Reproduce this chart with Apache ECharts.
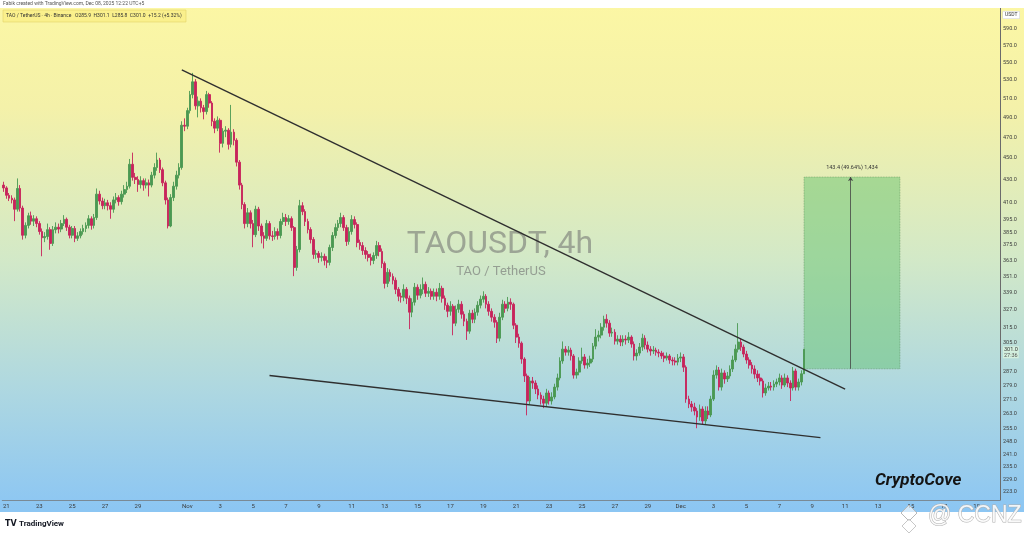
<!DOCTYPE html>
<html><head><meta charset="utf-8">
<script src="https://cdn.jsdelivr.net/npm/echarts@6/dist/echarts.min.js"></script>
<style>html,body{margin:0;padding:0;background:#fff}#c{width:1024px;height:536px}</style>
</head><body><div id="c"></div><script>
// ---- data (4h TAO/USDT candles) ----
const firstOpen = 425;
const closes = [
422.5,416,413.5,412,404,422,405,382.5,390.5,398.5,
394,396,392,385.5,380.5,381.5,387,376,387,389,
387.5,392,395.5,389,382.5,388,380,382,385.5,388,
390.5,396,390.5,397,417,411,407,409.5,407,404,
412,414,410.5,417,421,424,444,432,430,425.5,
429,425,427,425,434,441,448,439,427,412,
390,414,424,434,441,482,481,497,514,528,
502,507,500,496,514,505,486,479,487,464,
476,477,463,475,467,446,425,408,392,401,
392,383,404,390,382,380,392,382,381.5,385.5,
382.3,393.7,397,393.7,396.1,388.7,357.5,371.2,407,402,
393.7,387.1,379.1,367.4,368.2,365.1,365.9,362.8,361.3,372.8,
382.3,388.7,392,397,388.7,377.5,385.5,395.3,391.2,376.7,
374.3,370.4,367.4,365.1,362.8,366.6,374.3,369.7,360.5,345.7,
353.8,350.8,348,341.4,336.5,335.8,341.4,335.1,325.4,332.3,
342.9,337.2,341.4,345,338.6,340,336.5,339.3,336.5,342.1,
335.1,330.2,326,329.5,318,327.4,330.9,324,319.3,312.7,
324.7,320.6,325.4,330.2,334.4,336.5,330.9,326,322,318.6,
308.1,322,330.9,328.1,332.3,330.9,316.6,308.8,304.9,294.9,
284.6,270,281.6,280.4,276.9,273.4,271.1,268.8,274.6,270,
272.3,278,283.4,293.7,301.1,299.2,300.5,296.8,285.1,286.9,
293.7,296.2,291.2,292.4,294.9,303,308.8,310.1,315.3,320.6,
318,311.4,312,306.2,307.5,305.6,307.5,306.9,308.8,304.3,
296.8,298.6,302.4,308.1,303.7,301.1,299.9,300.5,299.2,298.6,
296.8,295.5,296.8,294.3,293.7,293,295.5,296.2,289.9,271.1,
268.3,266.6,264.4,261.1,265.5,258.9,264.4,262.2,271.1,285.1,
288.2,278,286.4,282.8,284.6,288.8,294.3,301.1,305.6,302.4,
298,294.3,291.2,288.8,285.7,283.4,281.6,274.6,277.5,278.6,
278,279.8,281,283.4,279.2,283.4,280.4,277.5,287.6,278,
281,285.9,301.0
];
const highs = [
428,424,418,416,414,431,425,407,393,401,
402,399,398,394,388,385,392,389,390,393,
392,395,399,397,391,390,390,385,388,391,
393,399,398,400,422,420,414,413,412,410,
415,418,416,420,425,428,449,455,436,433,
433,431,431,430,437,445,455,450,441,429,
414,417,428,438,445,486,489,500,518,538,
531,512,510,503,518,516,507,489,491,489,
479,481,479,503,478,469,448,427,410,405,
403,395,407,406,392,385,395,394,386,389,
388,396,401,400,399,398,390,374,412,410,
404,396,389,381,371,370,369,368,366,375,
385,392,395,401,399,391,389,399,398,393,
379,377,373,370,368,369,378,377,372,362,
357,356,353,350,343,339,345,343,337,335,
346,345,345,350,347,343,342,342,342,346,
344,337,332,333,331,330,334,333,326,321,
327,327,328,333,337,340,338,333,328,324,
320,325,334,333,336,335,332,318,311,306,
296,286,284,284,282,279,275,273,277,276,
275,280,286,296,306,303,303,302,298,289,
296,302,298,295,297,305,314,313,318,323,
324,320,315,314,310,310,310,310,312,310,
306,301,305,311,310,306,303,303,302,301,
300,299,299,298,296,296,298,299,298,291,
273,270,269,266,268,267,267,267,273,288,
291,290,289,288,287,291,297,304,318,308,
304,300,296,293,291,288,286,283,280,281,
281,282,283,286,285,286,285,282,290,289,
283,288,301.1
];
const lows = [
419,413,411,409,394,402,402,379,380,388,
391,390,389,383,366,377,379,371,374,384,
384,385,390,386,380,380,377,378,380,383,
385,388,387,388,395,408,404,404,403,396,
401,409,407,408,414,418,422,429,426,419,
422,420,422,415,423,431,438,436,424,408,
388,389,411,421,431,439,476,478,494,510,
498,490,495,488,493,500,481,474,476,455,
460,470,458,460,462,442,421,404,388,389,
388,373,381,386,376,372,378,379,378,379,
379,380,391,390,391,386,351,355,369,399,
390,384,376,364,364,361,362,359,357,359,
370,380,386,389,386,374,375,383,388,373,
371,367,364,362,359,360,364,366,357,342,
343,347,345,338,333,332,333,331,314,322,
330,334,335,338,336,336,334,334,333,334,
332,327,322,323,310,316,325,321,316,307,
311,318,318,323,328,332,328,323,319,315,
305,306,320,325,326,327,314,305,302,292,
281,262,268,277,274,271,268,266,267,268,
268,271,276,282,292,297,297,294,283,283,
285,292,289,289,290,293,301,306,308,313,
315,309,309,304,304,303,303,304,305,302,
294,294,297,300,301,299,297,298,297,296,
295,293,294,292,291,291,291,293,287,269,
266,264,262,255,259,257,257,260,261,270,
283,276,276,280,281,283,287,293,299,300,
296,292,289,286,283,281,279,272,273,276,
276,276,278,279,277,278,278,270,276,276,
276,279,285.8
];
// right price-scale tick labels
const yTicks = [590,570,550,530,510,490,470,450,430,410,395,385,375,363,351,339,327,315,305,287,279,271,263,255,248,241,235,229,223];
const lastPrice = 301.0;
const countdown = '27:36';
// time-scale tick labels (date -> text)
const xTickDays = ['10-21','10-23','10-25','10-27','10-29','11-01','11-03','11-05','11-07','11-09','11-11','11-13','11-15','11-17','11-19','11-21','11-23','11-25','11-27','11-29','12-01','12-03','12-05','12-07','12-09','12-11','12-13','12-15','12-17','12-19'];
const xTickLabels = ['21','23','25','27','29','Nov','3','5','7','9','11','13','15','17','19','21','23','25','27','29','Dec','3','5','7','9','11','13','15','17','19'];
// drawings: [bar index, price]
const upperTrend = [[65, 541.3], [307, 276.9]];
const lowerTrend = [[97, 284.9], [298, 250.0]];
const boxBars = [292, 327, 309];       // left, right, measure line
const boxPrices = [288.9, 432.3];      // bottom, top
const boxText = '143.4 (49.64%) 1,434';

// ---- categories: 4h bars ----
const pad = n => (n < 10 ? '0' : '') + n;
const startMs = Date.UTC(2025, 9, 20, 20);
const nBars = 364;
const categories = [];
for (let k = 0; k < nBars; k++) {
  const d = new Date(startMs + k * 4 * 3600 * 1000);
  categories.push(d.getUTCFullYear() + '-' + pad(d.getUTCMonth() + 1) + '-' + pad(d.getUTCDate()) + ' ' + pad(d.getUTCHours()) + ':00');
}
const tickMap = {};
xTickDays.forEach((d, i) => { tickMap['2025-' + d + ' 00:00'] = xTickLabels[i]; });

const candles = closes.map((c, i) => [i ? closes[i - 1] : firstOpen, c, lows[i], highs[i]]);

const hidden = { color: 'rgba(0,0,0,0)', width: 0 };
const tickLines = yTicks.map(v => ({ yAxis: v, lineStyle: hidden, label: { formatter: v.toFixed(1) } }));
tickLines.push({ yAxis: lastPrice, lineStyle: hidden, label: { formatter: lastPrice.toFixed(1), backgroundColor: 'rgba(214,240,222,0.95)', color: '#333', padding: [0, 1] } });
tickLines.push({ yAxis: lastPrice, lineStyle: hidden, label: { formatter: countdown, offset: [0, 6], backgroundColor: 'rgba(214,240,222,0.95)', color: '#555', padding: [0, 1] } });

const trendStyle = { color: '#2f2f2f', width: 1.4, type: 'solid' };
const measStyle = { color: '#444', width: 0.8, type: 'solid' };
const trendLines = [
  [{ coord: upperTrend[0], lineStyle: trendStyle }, { coord: upperTrend[1], lineStyle: trendStyle }],
  [{ coord: lowerTrend[0], lineStyle: trendStyle }, { coord: lowerTrend[1], lineStyle: trendStyle }],
  [{ coord: [boxBars[2], boxPrices[0]], symbol: 'none', lineStyle: measStyle },
   { coord: [boxBars[2], boxPrices[1]], symbol: 'arrow', symbolSize: 4, lineStyle: measStyle }]
];

const chart = echarts.init(document.getElementById('c'), null, { renderer: 'canvas' });
chart.setOption({
  animation: false,
  backgroundColor: {
    type: 'linear', x: 0, y: 0, x2: 0, y2: 1,
    colorStops: [
      { offset: 0, color: '#fcf7a4' },
      { offset: 0.2, color: '#f4f1a9' },
      { offset: 0.48, color: '#d3e9c7' },
      { offset: 0.72, color: '#afd8e0' },
      { offset: 0.95, color: '#8cc6f3' },
      { offset: 1, color: '#8cc6f3' }
    ]
  },
  grid: { left: 0, right: 24, top: 8, bottom: 36 },
  xAxis: {
    type: 'category', data: categories, boundaryGap: true,
    axisLine: { show: true, lineStyle: { color: '#7a8a96', width: 1 } },
    axisTick: { show: false },
    splitLine: { show: false },
    axisLabel: {
      interval: (idx, val) => tickMap[val] !== undefined,
      formatter: v => tickMap[v] || '',
      fontSize: 6, color: '#3a3a3a', margin: 3, fontFamily: 'Roboto'
    }
  },
  yAxis: {
    type: 'log', position: 'right', min: 219.3, max: 616.6, logBase: 10,
    axisLine: { show: true, lineStyle: { color: '#6b6b6b', width: 1 } },
    axisTick: { show: false }, axisLabel: { show: false }, splitLine: { show: false }
  },
  series: [{
    type: 'candlestick',
    data: candles,
    barWidth: 2.2,
    itemStyle: { color: '#4b9852', color0: '#c7245b', borderColor: '#4b9852', borderColor0: '#c7245b', borderWidth: 0.9 },
    markLine: {
      silent: true, symbol: 'none', animation: false,
      label: { show: true, position: 'end', distance: 3, fontSize: 5.5, color: '#3c3c3c', fontFamily: 'Roboto' },
      data: tickLines.concat(trendLines.map(p => [Object.assign({ label: { show: false } }, p[0]), Object.assign({ label: { show: false } }, p[1])]))
    },
    markArea: {
      silent: true,
      itemStyle: { color: 'rgba(92,190,104,0.45)', borderColor: 'rgba(70,120,70,0.55)', borderWidth: 0.8, borderType: 'dotted' },
      label: { show: true, position: 'top', distance: 6, formatter: boxText, fontSize: 5.5, color: '#333', fontFamily: 'Roboto' },
      data: [[{ coord: [boxBars[0], boxPrices[0]] }, { coord: [boxBars[1], boxPrices[1]] }]]
    }
  }],
  graphic: [
    { type: 'rect', shape: { x: 0, y: 0, width: 1024, height: 8 }, style: { fill: '#ffffff' }, z: 50 },
    { type: 'rect', shape: { x: 0, y: 512, width: 1024, height: 24 }, style: { fill: '#ffffff' }, z: 50 },
    { type: 'text', x: 3, y: 4, z: 60, style: { text: 'Fabik created with TradingView.com, Dec 08, 2025 12:22 UTC+5', fontSize: 5, fill: '#555', fontFamily: 'Roboto', verticalAlign: 'middle' } },
    { type: 'rect', shape: { x: 3, y: 10, width: 183, height: 12 }, style: { fill: '#faf08c', stroke: '#e2d46a', lineWidth: 0.6 }, z: 60 },
    { type: 'text', x: 6, y: 16, z: 61, style: { text: 'TAO / TetherUS · 4h · Binance   O285.9  H301.1  L285.8  C301.0  +15.2 (+5.32%)', fontSize: 5, fill: '#333', fontFamily: 'Roboto', verticalAlign: 'middle' } },
    { type: 'text', x: 1003, y: 15, z: 61, style: { text: 'USDT', fontSize: 5, fill: '#333', fontFamily: 'Roboto', verticalAlign: 'middle', backgroundColor: '#ffffff', padding: [1, 2], borderColor: '#cfcfcf', borderWidth: 0.5 } },
    { type: 'text', x: 500, y: 245, z: 0, style: { text: 'TAOUSDT, 4h', fontSize: 32, fill: 'rgba(110,110,110,0.55)', fontFamily: 'Roboto', align: 'center', verticalAlign: 'middle' } },
    { type: 'text', x: 501, y: 272, z: 0, style: { text: 'TAO / TetherUS', fontSize: 13, fill: 'rgba(110,110,110,0.6)', fontFamily: 'Roboto', align: 'center', verticalAlign: 'middle' } },
    { type: 'text', x: 875, y: 481, z: 60, style: { text: 'CryptoCove', fontSize: 17, fontWeight: 'bold', fontStyle: 'italic', fill: '#141414', fontFamily: 'Roboto', verticalAlign: 'middle' } },
    { type: 'text', x: 5, y: 524, z: 60, style: { text: 'TV', fontSize: 8, fontWeight: 'bold', fill: '#131722', fontFamily: 'DejaVu Sans', verticalAlign: 'middle' } },
    { type: 'text', x: 19, y: 524, z: 60, style: { text: 'TradingView', fontSize: 8, fontWeight: 'bold', fill: '#131722', fontFamily: 'Roboto', verticalAlign: 'middle' } },
    { type: 'polygon', z: 70, shape: { points: [[909, 505], [917, 513], [909, 521], [901, 513]] }, style: { fill: 'rgba(255,255,255,0.6)', stroke: '#b8b8b8', lineWidth: 1 } },
    { type: 'polygon', z: 70, shape: { points: [[909, 519], [916, 526], [909, 533], [902, 526]] }, style: { fill: 'rgba(255,255,255,0.6)', stroke: '#c8c8c8', lineWidth: 1 } },
    { type: 'text', x: 928, y: 516, z: 70, style: { text: '@ CCNZ', fontSize: 23, fill: 'rgba(255,255,255,0.85)', stroke: '#b0b0b0', lineWidth: 1, fontFamily: 'Liberation Sans', verticalAlign: 'middle' } }
  ]
});
</script></body></html>
